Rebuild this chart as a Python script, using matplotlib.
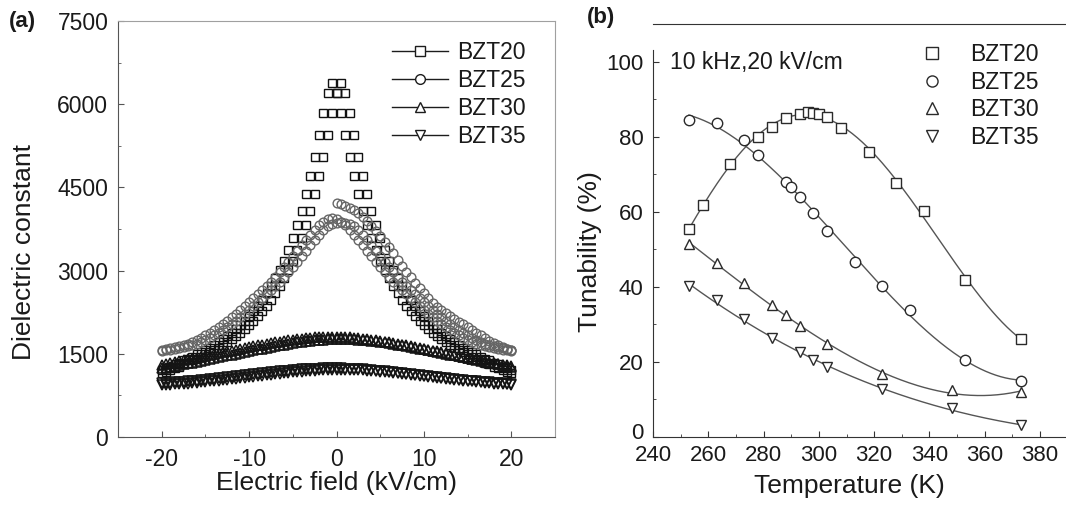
import numpy as np
import matplotlib.pyplot as plt
import matplotlib.transforms as mtransforms
from matplotlib.lines import Line2D

plt.rcParams['font.family'] = ['Liberation Sans', 'DejaVu Sans']
plt.rcParams['text.color'] = '#1a1a1a'
plt.rcParams['axes.unicode_minus'] = False

# ---------- panel (a): dielectric constant vs electric field ----------
field = np.linspace(-20, 20, 81)
field_half = np.linspace(0, 20, 41)

bzt20_a = [1200, 1240, 1270, 1310, 1340, 1380, 1410, 1450, 1490, 1530,
           1570, 1610, 1660, 1710, 1760, 1820, 1880, 1950, 2020, 2100,
           2180, 2270, 2370, 2470, 2590, 2720, 2860, 3010, 3180, 3370,
           3580, 3820, 4080, 4380, 4700, 5050, 5450, 5850, 6200, 6380,
           6200, 5850, 5450, 5050, 4700, 4380, 4080, 3820, 3580, 3370,
           3180, 3010, 2860, 2720, 2590, 2470, 2370, 2270, 2180, 2100,
           2020, 1950, 1880, 1820, 1760, 1710, 1660, 1610, 1570, 1530,
           1490, 1450, 1410, 1380, 1340, 1310, 1270, 1240, 1200, 1170, 1150]
bzt20_b = [1150, 1170, 1200, 1240, 1270, 1310, 1340, 1380, 1410, 1450,
           1490, 1530, 1570, 1610, 1660, 1710, 1760, 1820, 1880, 1950,
           2020, 2100, 2180, 2270, 2370, 2470, 2590, 2720, 2860, 3010,
           3180, 3370, 3580, 3820, 4080, 4380, 4700, 5050, 5450, 5850,
           6200, 6380, 6200, 5850, 5450, 5050, 4700, 4380, 4080, 3820,
           3580, 3370, 3180, 3010, 2860, 2720, 2590, 2470, 2370, 2270,
           2180, 2100, 2020, 1950, 1880, 1820, 1760, 1710, 1660, 1610,
           1570, 1530, 1490, 1450, 1410, 1380, 1340, 1310, 1270, 1240, 1200]

bzt25_a = [1570, 1585, 1600, 1620, 1640, 1660, 1685, 1715, 1750, 1790,
           1835, 1880, 1930, 1985, 2040, 2100, 2160, 2220, 2290, 2360,
           2430, 2500, 2580, 2650, 2720, 2800, 2890, 2975, 3065, 3160,
           3260, 3360, 3460, 3560, 3650, 3740, 3820, 3880, 3930, 3950,
           3930, 3880, 3820, 3740, 3650, 3560, 3460, 3360, 3260, 3160,
           3065, 2975, 2890, 2800, 2720, 2650, 2580, 2500, 2430, 2360,
           2290, 2220, 2160, 2100, 2040, 1985, 1930, 1880, 1835, 1790,
           1750, 1715, 1685, 1660, 1640, 1620, 1600, 1585, 1570, 1560, 1550]
bzt25_b = [1550, 1560, 1570, 1585, 1600, 1620, 1640, 1660, 1685, 1715,
           1750, 1790, 1835, 1880, 1930, 1985, 2040, 2100, 2160, 2220,
           2290, 2360, 2430, 2500, 2580, 2650, 2720, 2800, 2890, 2975,
           3065, 3160, 3260, 3360, 3460, 3560, 3650, 3740, 3800, 3840,
           3860, 3880, 3860, 3840, 3800, 3740, 3650, 3560, 3460, 3360,
           3260, 3160, 3065, 2975, 2890, 2800, 2720, 2650, 2580, 2500,
           2430, 2360, 2290, 2220, 2160, 2100, 2040, 1985, 1930, 1880,
           1835, 1790, 1750, 1715, 1685, 1660, 1640, 1620, 1600, 1585, 1570]
# first sweep 0 -> 20 kV/cm
bzt25_v = [4220, 4200, 4170, 4130, 4090, 4040, 3970, 3890, 3800, 3710,
           3620, 3520, 3420, 3310, 3200, 3090, 2980, 2880, 2780, 2680,
           2590, 2500, 2420, 2350, 2290, 2230, 2180, 2130, 2080, 2030,
           1980, 1930, 1880, 1830, 1780, 1730, 1690, 1650, 1620, 1590, 1565]

bzt30_a = [1305, 1320, 1335, 1350, 1366, 1382, 1398, 1414, 1430, 1446,
           1462, 1478, 1494, 1510, 1526, 1542, 1558, 1574, 1590, 1605,
           1620, 1635, 1650, 1665, 1680, 1694, 1707, 1720, 1733, 1745,
           1755, 1765, 1774, 1782, 1790, 1795, 1800, 1805, 1808, 1810,
           1808, 1805, 1800, 1795, 1790, 1782, 1774, 1765, 1755, 1745,
           1733, 1720, 1707, 1694, 1680, 1665, 1650, 1635, 1620, 1605,
           1590, 1574, 1558, 1542, 1526, 1510, 1494, 1478, 1462, 1446,
           1430, 1414, 1398, 1382, 1366, 1350, 1335, 1320, 1305, 1290, 1275]
bzt30_b = [1235, 1250, 1265, 1280, 1295, 1310, 1326, 1342, 1358, 1374,
           1390, 1406, 1422, 1438, 1454, 1470, 1486, 1502, 1518, 1534,
           1550, 1565, 1580, 1595, 1610, 1625, 1640, 1654, 1667, 1680,
           1693, 1705, 1715, 1725, 1734, 1742, 1750, 1755, 1760, 1765,
           1768, 1770, 1768, 1765, 1760, 1755, 1750, 1742, 1734, 1725,
           1715, 1705, 1693, 1680, 1667, 1654, 1640, 1625, 1610, 1595,
           1580, 1565, 1550, 1534, 1518, 1502, 1486, 1470, 1454, 1438,
           1422, 1406, 1390, 1374, 1358, 1342, 1326, 1310, 1295, 1280, 1265]

bzt35_a = [967, 972, 977, 983, 989, 996, 1003, 1010, 1018, 1026,
           1034, 1042, 1051, 1060, 1069, 1078, 1087, 1096, 1105, 1114,
           1123, 1132, 1141, 1150, 1159, 1167, 1175, 1183, 1191, 1198,
           1205, 1211, 1217, 1222, 1227, 1231, 1234, 1237, 1239, 1240,
           1239, 1237, 1234, 1231, 1227, 1222, 1217, 1211, 1205, 1198,
           1191, 1183, 1175, 1167, 1159, 1150, 1141, 1132, 1123, 1114,
           1105, 1096, 1087, 1078, 1069, 1060, 1051, 1042, 1034, 1026,
           1018, 1010, 1003, 996, 989, 983, 977, 972, 967, 962, 958]
bzt35_b = [933, 937, 942, 947, 952, 958, 964, 971, 978, 985,
           993, 1001, 1009, 1017, 1026, 1035, 1044, 1053, 1062, 1071,
           1080, 1089, 1098, 1107, 1116, 1125, 1134, 1142, 1150, 1158,
           1166, 1173, 1180, 1186, 1192, 1197, 1202, 1206, 1209, 1212,
           1214, 1215, 1214, 1212, 1209, 1206, 1202, 1197, 1192, 1186,
           1180, 1173, 1166, 1158, 1150, 1142, 1134, 1125, 1116, 1107,
           1098, 1089, 1080, 1071, 1062, 1053, 1044, 1035, 1026, 1017,
           1009, 1001, 993, 985, 978, 971, 964, 958, 952, 947, 942]

# ---------- panel (b): tunability vs temperature ----------
temp20 = [253, 258, 268, 278, 283, 288, 293, 296, 298, 300, 303, 308, 318, 328, 338, 353, 373]
tun20 = [55.3, 61.8, 72.7, 80.0, 82.5, 84.9, 86.0, 86.5, 86.2, 86.0, 85.3, 82.2, 75.8, 67.6, 60.3, 41.8, 26.2]
temp25 = [253, 263, 273, 278, 288, 290, 293, 298, 303, 313, 323, 333, 353, 373]
tun25 = [84.4, 83.7, 79.1, 75.1, 68.0, 66.5, 64.0, 59.6, 54.9, 46.7, 40.2, 33.8, 20.6, 14.8]
temp30 = [253, 263, 273, 283, 288, 293, 303, 323, 348, 373]
tun30 = [51.4, 46.4, 40.9, 35.1, 32.4, 29.5, 24.7, 16.7, 12.4, 12.0]
temp35 = [253, 263, 273, 283, 293, 298, 303, 323, 348, 373]
tun35 = [40.2, 36.4, 31.3, 26.4, 22.7, 20.4, 18.7, 12.9, 7.6, 3.1]

labels = ['BZT20', 'BZT25', 'BZT30', 'BZT35']
markers = ['s', 'o', '^', 'v']

fig = plt.figure(figsize=(10.66, 5.12), dpi=100)

# panel (a)
ax1 = fig.add_axes([118 / 1066, 75 / 512, 437 / 1066, 416 / 512])
kw = dict(ls='none', mfc='none')
for y in (bzt20_a, bzt20_b):
    ax1.plot(field, y, marker='s', ms=6.3, mec='#111111', mew=1.0, **kw)
for y in (bzt25_a, bzt25_b):
    ax1.plot(field, y, marker='o', ms=6.3, mec='#666666', mew=1.0, **kw)
ax1.plot(field_half, bzt25_v, marker='o', ms=6.3, mec='#666666', mew=1.0, **kw)
for y in (bzt30_a, bzt30_b):
    ax1.plot(field, y, marker='^', ms=7, mec='#151515', mew=1.1, **kw)
for y in (bzt35_a, bzt35_b):
    ax1.plot(field, y, marker='v', ms=7, mec='#151515', mew=1.1, **kw)

ax1.set_xlim(-25, 25)
ax1.set_ylim(0, 7500)
ax1.set_xticks([-20, -10, 0, 10, 20])
ax1.set_xticks([-15, -5, 5, 15], minor=True)
ax1.set_yticks([0, 1500, 3000, 4500, 6000, 7500])
ax1.set_yticks([750, 2250, 3750, 5250, 6750], minor=True)
ax1.tick_params(which='both', direction='in', labelsize=16.5, colors='#555555', labelcolor='#1a1a1a')
ax1.tick_params(which='major', length=4)
ax1.tick_params(which='minor', length=2.5)
ax1.tick_params(axis='x', pad=8)
ax1.tick_params(axis='y', pad=7)
for s in ['left', 'bottom']:
    ax1.spines[s].set_color('#555555')
for s in ['top', 'right']:
    ax1.spines[s].set_color('#a0a0a0')

leg_a = [Line2D([], [], color='#1c1c1c', lw=1, marker=m, ms=7, mfc='white', mec='#1c1c1c')
         for m in markers]
ax1.legend(leg_a, labels, loc='upper left', bbox_to_anchor=(392 / 1066, 1 - 41 / 512),
           bbox_transform=fig.transFigure, frameon=False, fontsize=16.5,
           handlelength=2.45, handletextpad=0.4, labelspacing=0.22, borderpad=0,
           borderaxespad=0)

fig.text(24 / 1066, 1 - 252 / 512, 'Dielectric constant', rotation=90, ha='center',
         va='center', fontsize=19)
fig.text(337 / 1066, 1 - 483 / 512, 'Electric field (kV/cm)', ha='center', va='center',
         fontsize=19)
fig.text(9 / 1066, 1 - 22 / 512, '(a)', fontweight='bold', fontsize=16, va='center')

# panel (b)
ax2 = fig.add_axes([653 / 1066, 75 / 512, 413 / 1066, 413 / 512])
data_b = [(temp20, tun20, 5), (temp25, tun25, 3), (temp30, tun30, 3), (temp35, tun35, 3)]
for (t, v, deg), m in zip(data_b, markers):
    c = np.polyfit(t, v, deg)
    tt = np.linspace(min(t), max(t), 200)
    ax2.plot(tt, np.polyval(c, tt), color='#555555', lw=1)
    ax2.plot(t, v, ls='none', marker=m, ms=7.5, mfc='white', mec='#2a2a2a', mew=1)

ax2.set_xlim(240, 389.4)
ax2.set_ylim(0, 110)
ax2.set_xticks(np.arange(240, 381, 20))
ax2.set_xticks(np.arange(250, 381, 20), minor=True)
ax2.set_yticks([0, 20, 40, 60, 80, 100])
ax2.set_yticks([10, 30, 50, 70, 90], minor=True)
ax2.tick_params(which='both', direction='in', labelsize=16, colors='#333333', labelcolor='#1a1a1a')
ax2.tick_params(which='major', length=4)
ax2.tick_params(which='minor', length=2.5)
ax2.tick_params(axis='x', pad=6)
ax2.tick_params(axis='y', pad=7)
ax2.spines['right'].set_visible(False)
ax2.spines['left'].set_bounds(0, 103)
for s in ['left', 'bottom', 'top']:
    ax2.spines[s].set_color('#333333')

# the "0" label sits a little above the axis line, as in the original
zero_lab = ax2.yaxis.get_major_ticks()[0].label1
zero_lab.set_transform(zero_lab.get_transform() +
                       mtransforms.ScaledTranslation(0, 4 / 72, fig.dpi_scale_trans))

leg_b = [Line2D([], [], ls='none', marker=m, ms=8, mfc='white', mec='#2a2a2a') for m in markers]
ax2.legend(leg_b, labels, loc='upper left', bbox_to_anchor=(921 / 1066, 1 - 43 / 512),
           bbox_transform=fig.transFigure, frameon=False, fontsize=16.5, numpoints=1,
           handlelength=1, handletextpad=1.13, labelspacing=0.2, borderpad=0,
           borderaxespad=0)

fig.text(670 / 1066, 1 - 62 / 512, '10 kHz,20 kV/cm', va='center', fontsize=16.5)
fig.text(590 / 1066, 1 - 252 / 512, 'Tunability (%)', rotation=90, ha='center',
         va='center', fontsize=19)
fig.text(849 / 1066, 1 - 486 / 512, 'Temperature (K)', ha='center', va='center',
         fontsize=19)
fig.text(587 / 1066, 1 - 18 / 512, '(b)', fontweight='bold', fontsize=16, va='center')

fig.savefig('out.png', dpi=100)
